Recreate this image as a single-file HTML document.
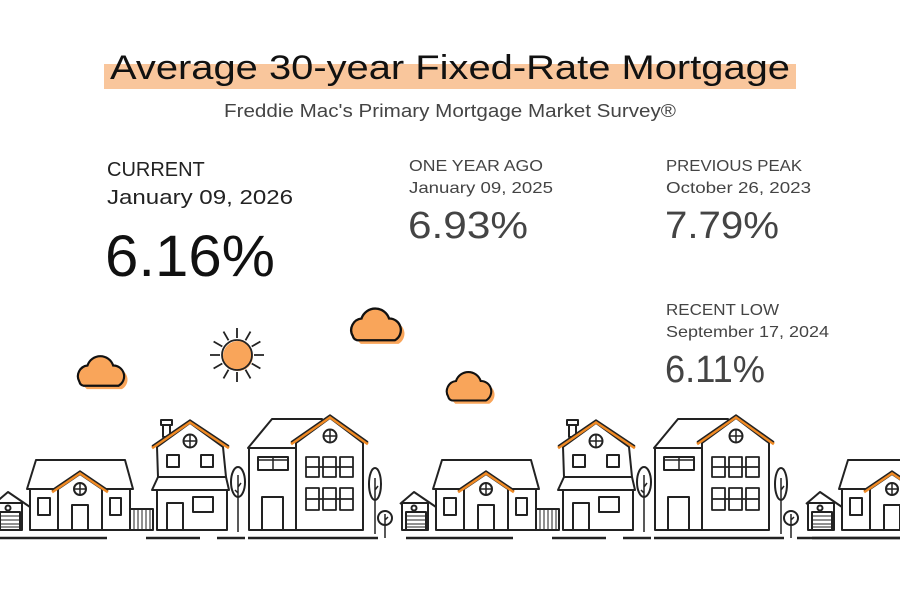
<!DOCTYPE html>
<html><head><meta charset="utf-8"><style>
html,body{margin:0;padding:0;background:#fff;}
svg{display:block;font-family:"Liberation Sans",sans-serif;}
</style></head><body>
<svg width="900" height="600" viewBox="0 0 900 600" xmlns="http://www.w3.org/2000/svg">
<rect width="900" height="600" fill="#fff"/>
<rect x="104" y="64" width="692" height="25" fill="#f9c69c"/>
<text x="450" y="79" text-anchor="middle" font-size="34" fill="#111" textLength="680" lengthAdjust="spacingAndGlyphs">Average 30-year Fixed-Rate Mortgage</text>
<text x="450" y="117" text-anchor="middle" font-size="18" fill="#444" textLength="452" lengthAdjust="spacingAndGlyphs">Freddie Mac's Primary Mortgage Market Survey®</text>

<text x="107" y="176" font-size="20" fill="#222">CURRENT</text>
<text x="107" y="204" font-size="20" fill="#222" textLength="186" lengthAdjust="spacingAndGlyphs">January 09, 2026</text>
<text x="105" y="276" font-size="58" fill="#111" textLength="170" lengthAdjust="spacingAndGlyphs">6.16%</text>

<g fill="#444">
<text x="409" y="171" font-size="16" textLength="134" lengthAdjust="spacingAndGlyphs">ONE YEAR AGO</text>
<text x="409" y="193" font-size="16" textLength="144" lengthAdjust="spacingAndGlyphs">January 09, 2025</text>
<text x="408" y="238" font-size="38" textLength="120" lengthAdjust="spacingAndGlyphs">6.93%</text>
<text x="666" y="171" font-size="16" textLength="136" lengthAdjust="spacingAndGlyphs">PREVIOUS PEAK</text>
<text x="666" y="193" font-size="16" textLength="145" lengthAdjust="spacingAndGlyphs">October 26, 2023</text>
<text x="665" y="238" font-size="38" textLength="114" lengthAdjust="spacingAndGlyphs">7.79%</text>
<text x="666" y="315" font-size="16" textLength="113" lengthAdjust="spacingAndGlyphs">RECENT LOW</text>
<text x="666" y="337" font-size="16" textLength="163" lengthAdjust="spacingAndGlyphs">September 17, 2024</text>
<text x="665" y="382" font-size="38" textLength="100" lengthAdjust="spacingAndGlyphs">6.11%</text>
</g>

<defs>
<g id="cloud">
<path d="M4,22 a8,8 0 0 1 6,-12 a10,10 0 0 1 19,0 a8,8 0 0 1 4,15 h-26 z" fill="#f9a55a" transform="translate(2.5,2.5)"/>
<path d="M4,22 a8,8 0 0 1 6,-12 a10,10 0 0 1 19,0 a8,8 0 0 1 4,15 h-26 a4,4 0 0 1 -3,-3 z" fill="#f9a55a" stroke="#111" stroke-width="1.6"/>
</g>
<g id="row" fill="#fff" stroke="#222" stroke-width="2" stroke-linejoin="round">
<path d="M-6,504 L8,492 L30,507" fill="none"/>
<rect x="-4" y="503" width="26" height="27"/>
<circle cx="8" cy="508" r="2.5"/>
<rect x="0" y="512" width="20" height="18"/>
<path d="M0,516h20M0,520h20M0,524h20M0,527h20" stroke-width="1"/>
<path d="M27,489 L36,460 L125,460 L133,489 Z"/>
<rect x="30" y="489" width="100" height="41"/>
<path d="M58,489 L80,474 L102,489 L102,530 L58,530 Z"/>
<path d="M52,492 L80,473 L108,492" stroke="#f08a24" stroke-width="3" fill="none"/>
<path d="M52,490 L80,471 L108,490" fill="none" stroke-width="1.5"/>
<circle cx="80" cy="489" r="6"/><path d="M74,489h12M80,483v12" stroke-width="1.5"/>
<rect x="72" y="505" width="16" height="25"/>
<rect x="38" y="498" width="12" height="17"/><rect x="110" y="498" width="11" height="17"/>
<rect x="130" y="509" width="23" height="21"/>
<path d="M134,509v21M138,509v21M142,509v21M146,509v21M150,509v21" stroke-width="1"/>
<rect x="161" y="420" width="11" height="5"/><rect x="163" y="425" width="7" height="12"/>
<path d="M157,447 L190,423 L223,447 L226,477 L158,477 Z"/>
<path d="M152,448 L190,422 L229,448" stroke="#f08a24" stroke-width="3" fill="none"/>
<path d="M152,446 L190,420 L229,446" fill="none" stroke-width="1.5"/>
<circle cx="190" cy="441" r="6.5"/><path d="M183.5,441h13M190,434.5v13" stroke-width="1.5"/>
<rect x="167" y="455" width="12" height="12"/><rect x="201" y="455" width="12" height="12"/>
<path d="M158,477 L226,477 L229,490 L152,490 Z"/>
<rect x="157" y="490" width="70" height="40"/>
<rect x="167" y="503" width="16" height="27"/>
<rect x="193" y="497" width="20" height="15"/>
<ellipse cx="238" cy="482" rx="7" ry="15"/><path d="M238,475v57M238,487l3,-4M238,493l-3,-3" fill="none" stroke-width="1.5"/>
<path d="M248,448 L272,419 L322,419 L322,448 Z"/>
<rect x="249" y="448" width="47" height="82"/>
<rect x="258" y="457" width="30" height="13"/><path d="M273,457v13M258,460h30" stroke-width="1.5"/>
<rect x="262" y="497" width="21" height="33"/>
<path d="M296,443 L330,418 L363,443 L363,530 L296,530 Z"/>
<path d="M291,444 L330,417 L368,444" stroke="#f08a24" stroke-width="3" fill="none"/>
<path d="M291,442 L330,415 L368,442" fill="none" stroke-width="1.5"/>
<circle cx="330" cy="436" r="6.5"/><path d="M323.5,436h13M330,429.5v13" stroke-width="1.5"/>
<g stroke-width="1.8">
<rect x="306" y="457" width="13" height="20"/><rect x="323" y="457" width="13" height="20"/><rect x="340" y="457" width="13" height="20"/>
<rect x="306" y="488" width="13" height="22"/><rect x="323" y="488" width="13" height="22"/><rect x="340" y="488" width="13" height="22"/>
<path d="M306,467h47M306,499h47" fill="none"/>
</g>
<ellipse cx="375" cy="484" rx="6" ry="16"/><path d="M375,478v56M375,490l3,-4" fill="none" stroke-width="1.5"/>
<circle cx="385" cy="518" r="7"/><path d="M385,514v24M385,520l3,-3" fill="none" stroke-width="1.5"/>
<path d="M0,538h107M146,538h54M217,538h28M248,538h130" stroke-width="2.5" fill="none"/>
</g>
</defs>
<use href="#row" x="0"/>
<use href="#row" x="406"/>
<use href="#row" x="812"/>
<path d="M797,538h103" stroke="#222" stroke-width="2.5"/>

<use href="#cloud" transform="translate(74,352) scale(1.35)"/>
<use href="#cloud" transform="translate(347,304) scale(1.45)"/>
<use href="#cloud" transform="translate(443,368) scale(1.3)"/>

<g stroke="#222" stroke-width="1.8">
<g transform="translate(237,355)">
<path d="M0,-17V-27M0,17V27M-17,0H-27M17,0H27M8.5,-14.7L13.5,-23.4M-8.5,-14.7L-13.5,-23.4M8.5,14.7L13.5,23.4M-8.5,14.7L-13.5,23.4M14.7,-8.5L23.4,-13.5M-14.7,-8.5L-23.4,-13.5M14.7,8.5L23.4,13.5M-14.7,8.5L-23.4,13.5"/>
<circle r="15" fill="#f9a55a" stroke="none" transform="translate(1,1)"/>
<circle r="15" fill="none"/>
</g>
</g>
</svg>
</body></html>
